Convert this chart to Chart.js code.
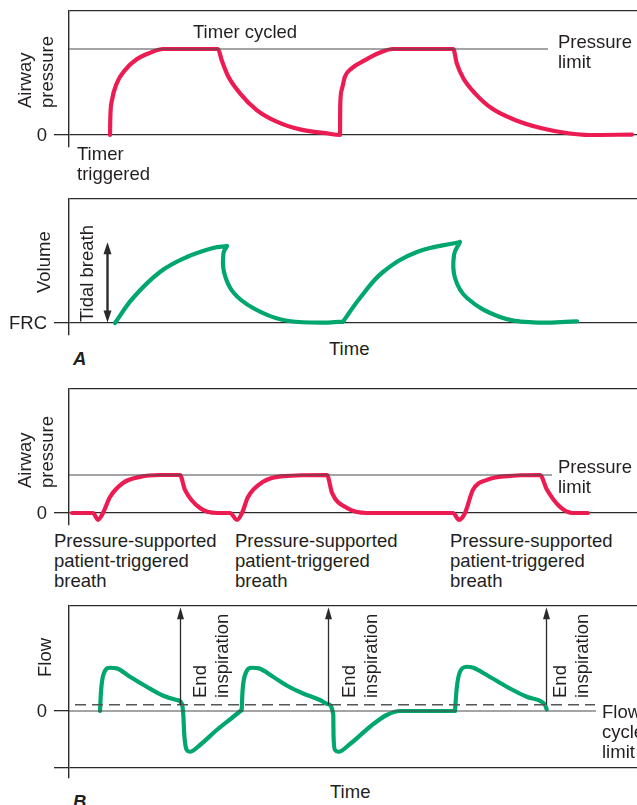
<!DOCTYPE html>
<html>
<head>
<meta charset="utf-8">
<script src="https://cdn.jsdelivr.net/npm/chart.js@4.4.1/dist/chart.umd.min.js"></script>
<style>
  html, body { margin: 0; padding: 0; background: #fff; }
  body { width: 637px; height: 805px; position: relative; overflow: hidden;
         font-family: "Liberation Sans", Arial, sans-serif; color: #231f20; }
  canvas { position: absolute; left: 0; }
  .lbl { position: absolute; font-size: 18.5px; line-height: 20px; white-space: nowrap; }
  .num { position: absolute; font-size: 18.5px; line-height: 20px; right: 590px; text-align: right; }
  .rot { position: absolute; font-size: 18.5px; line-height: 22px; white-space: nowrap;
         transform-origin: 0 0; transform: rotate(-90deg); }
  .tag { font-weight: bold; font-style: italic; }
</style>
</head>
<body>
<canvas id="p1" width="637" height="142" style="top:8px"></canvas>
<canvas id="p2" width="637" height="142" style="top:196px"></canvas>
<canvas id="p3" width="637" height="142" style="top:386px"></canvas>
<canvas id="p4" width="637" height="178" style="top:603px"></canvas>

<!-- A: presión -->
<div class="rot" style="left:14px; top:108px">Airway<br>pressure</div>
<div class="num" style="top:125px">0</div>
<div class="lbl" style="left:193px; top:22px">Timer cycled</div>
<div class="lbl" style="left:558px; top:32px">Pressure<br>limit</div>
<div class="lbl" style="left:77px; top:144px">Timer<br>triggered</div>

<!-- A: volumen -->
<div class="rot" style="left:33px; top:293px">Volume</div>
<div class="rot" style="left:76px; top:322px">Tidal breath</div>
<div class="num" style="top:313px">FRC</div>
<div class="lbl tag" style="left:73px; top:349px">A</div>
<div class="lbl" style="left:329px; top:339px">Time</div>

<!-- B: presión -->
<div class="rot" style="left:14px; top:488px">Airway<br>pressure</div>
<div class="num" style="top:503px">0</div>
<div class="lbl" style="left:558px; top:457px">Pressure<br>limit</div>
<div class="lbl" style="left:54px; top:531px">Pressure-supported<br>patient-triggered<br>breath</div>
<div class="lbl" style="left:235px; top:531px">Pressure-supported<br>patient-triggered<br>breath</div>
<div class="lbl" style="left:450px; top:531px">Pressure-supported<br>patient-triggered<br>breath</div>

<!-- B: flujo -->
<div class="rot" style="left:34px; top:677px">Flow</div>
<div class="num" style="top:701px">0</div>
<div class="rot" style="left:189px; top:698px">End<br>inspiration</div>
<div class="rot" style="left:338px; top:698px">End<br>inspiration</div>
<div class="rot" style="left:549px; top:698px">End<br>inspiration</div>
<div class="lbl" style="left:602px; top:702px">Flow<br>cycle<br>limit</div>
<div class="lbl tag" style="left:73px; top:792px">B</div>
<div class="lbl" style="left:330px; top:782px">Time</div>

<script>
'use strict';

// ── Datos (tiempo en s aprox.) ─────────────────────────
const TIME_MAX = 5.68;

// A: respiración ciclada por tiempo
const PRESSURE_LIMIT_A = 20;        // cmH2O
const pressureA_t = [0.41, 0.413, 0.43, 0.477, 0.56, 0.677, 0.81, 0.94,
                     1.49, 1.527, 1.593, 1.71, 1.877, 2.077, 2.31, 2.577, 2.71,
                     2.712, 2.727, 2.76, 2.827, 2.96, 3.093, 3.24,
                     3.843, 3.877, 3.943, 4.06, 4.227, 4.46, 4.727, 4.993, 5.2, 5.63];
const pressureA_v = [0, 4.0, 8.1, 12.0, 15.1, 17.6, 19.1, 20,
                     20, 17.4, 13.6, 9.7, 5.8, 3.1, 1.3, 0.4, 0,
                     6.6, 10.5, 13.6, 15.5, 17.4, 19.0, 20,
                     20, 16.7, 13.2, 9.7, 6.2, 3.5, 1.56, 0.4, 0, 0.1];

// volumen sobre FRC (mL); null = corte del trazo
const TIDAL_BREATH = 485;
const volumeA_t = [0.46, 0.64, 0.91, 1.18, 1.44, 1.58, 1.58,
                   1.58, 1.545, 1.55, 1.64, 1.84, 2.14, 2.51, 2.74, 2.74,
                   2.74, 2.91, 3.14, 3.48, 3.91, 3.91,
                   3.91, 3.85, 3.86, 3.98, 4.31, 4.64, 5.08];
const volumeA_v = [0, 150, 306, 396, 450, 462, null,
                   462, 420, 306, 186, 90, 18, 2, 8, null,
                   8, 150, 306, 426, 486, null,
                   486, 408, 270, 150, 36, 4, 10];

// B: soporte de presión, disparado por el paciente
const PRESSURE_LIMIT_B = 10;
const pressureB_t = [0.03, 0.24, 0.29, 0.34, 0.41, 0.54, 0.71, 0.91, 1.11, 1.16, 1.31, 1.48,
                     1.61, 1.68, 1.73, 1.79, 1.94, 2.14, 2.58, 2.63, 2.78, 2.98,
                     3.84, 3.90, 3.96, 4.04, 4.18, 4.38, 4.71, 4.78, 4.91, 5.04, 5.19];
const pressureB_v = [0, 0, -1.8, 0, 4.2, 7.9, 9.5, 10, 10, 6.1, 1.3, 0,
                     0, -1.8, 0, 4.2, 8.2, 9.7, 10, 5.3, 1.3, 0,
                     0, -1.8, 0, 6.1, 8.7, 9.7, 10, 6.1, 1.6, 0, 0];

// flujo (L/min); null = esquina entre espiración e inspiración
const FLOW_CYCLE_LIMIT = 5;
const END_INSPIRATION_T = [1.11, 2.59, 4.77];
const flowB_t = [0.31, 0.32, 0.343, 0.41, 0.477, 0.61, 0.777, 0.943, 1.077, 1.127,
                 1.143, 1.153, 1.177, 1.21, 1.31, 1.477, 1.643, 1.727, 1.727,
                 1.727, 1.735, 1.76, 1.83, 1.90, 2.04, 2.20, 2.33, 2.51, 2.59,
                 2.643, 2.645, 2.66, 2.693, 2.81, 3.01, 3.177, 3.31, 3.86, 3.86,
                 3.86, 3.877, 3.91, 3.977, 4.043, 4.177, 4.377, 4.577, 4.727, 4.76, 4.777];
const flowB_v = [0, 15.4, 28.8, 34.6, 34.1, 27.4, 19.4, 12.2, 8.8, 6.1,
                 -3.2, -19.2, -31.2, -32.6, -27.2, -15.2, -4.6, 0.8, null,
                 0.8, 15.4, 28.8, 34.6, 34.1, 27.4, 19.4, 14.4, 8.8, 5.4,
                 -3.2, -19.2, -31.2, -32.6, -26.4, -12.6, -3.2, 0, 0, null,
                 0, 18.1, 31.4, 35.4, 34.6, 28.8, 19.4, 11.4, 7.4, 4.8, 1.4];

// ── Estilos ─────
const AXIS  = '#2b2b2b';
const GUIDE = '#4a4a4a';
const PINK  = '#ec1b52';
const GREEN = '#00a66f';

function pts(ts, vs) { return ts.map((t, i) => ({ x: t, y: vs[i] })); }

function guide(v, t0, t1, dash) {
  return { data: [{ x: t0, y: v }, { x: t1, y: v }], borderColor: dash ? '#555' : GUIDE,
           borderWidth: dash ? 1.5 : 1.2, borderDash: dash || [], pointRadius: 0, tension: 0 };
}

function curve(ts, vs, color, monotone) {
  return { data: pts(ts, vs), borderColor: color, borderWidth: 4.2, pointRadius: 0,
           borderCapStyle: 'round', borderJoinStyle: 'round',
           cubicInterpolationMode: monotone ? 'monotone' : 'default', tension: monotone ? 0 : 0.4 };
}

// flechas verticales en coordenadas de datos
const arrowPlugin = {
  id: 'arrows',
  afterDatasetsDraw(chart, _args, opts) {
    const { ctx, scales: { x, y } } = chart;
    (opts.items || []).forEach(a => {
      const px = Math.round(x.getPixelForValue(a.t)) + 0.5;
      const yLo = y.getPixelForValue(a.from), yHi = y.getPixelForValue(a.to);
      ctx.save();
      ctx.strokeStyle = ctx.fillStyle = AXIS;
      ctx.lineWidth = a.width;
      ctx.beginPath();
      ctx.moveTo(px, a.both ? yLo - a.len + 1 : yLo);
      ctx.lineTo(px, yHi + a.len - 1);
      ctx.stroke();
      const head = (tip, dir) => {
        ctx.beginPath();
        ctx.moveTo(px, tip);
        ctx.lineTo(px - a.half, tip + dir * a.len);
        ctx.lineTo(px + a.half, tip + dir * a.len);
        ctx.closePath();
        ctx.fill();
      };
      head(yHi, 1);
      if (a.both) head(yLo, -1);
      ctx.restore();
    });
  }
};

function panel(id, yMin, yMax, ticks, datasets, arrows) {
  new Chart(document.getElementById(id), {
    type: 'line',
    data: { datasets },
    options: {
      responsive: false,
      animation: false,
      devicePixelRatio: 1,
      events: [],
      layout: { padding: { top: 3, bottom: 3, left: 0, right: 0 } },
      plugins: { legend: { display: false }, tooltip: { enabled: false }, arrows: { items: arrows || [] } },
      scales: {
        x: { type: 'linear', min: 0, max: TIME_MAX, display: false },
        y: {
          min: yMin, max: yMax,
          afterFit: s => { s.width = 69; },
          afterBuildTicks: s => { s.ticks = ticks.map(tk => ({ value: tk.v })); },
          ticks: { display: false },
          border: { display: true, color: AXIS, width: 1.4 },
          grid: {
            tickLength: 15,
            lineWidth: 1.3,
            color: c => (ticks[c.index] && ticks[c.index].line) ? AXIS : 'transparent',
            tickColor: c => (ticks[c.index] && ticks[c.index].mark) ? AXIS : 'transparent'
          }
        }
      }
    },
    plugins: [arrowPlugin]
  });
}

// ── Paneles ─────
const P1 = { min: -2.79, max: 28.84 };
panel('p1', P1.min, P1.max,
  [{ v: 0, line: true, mark: true }, { v: P1.max, line: true, mark: false }],
  [guide(PRESSURE_LIMIT_A, 0, 4.79), curve(pressureA_t, pressureA_v, PINK, true)]);

const P2 = { min: -72, max: 744 };
panel('p2', P2.min, P2.max,
  [{ v: 0, line: true, mark: true }, { v: P2.max, line: true, mark: false }],
  [curve(volumeA_t, volumeA_v, GREEN, false)],
  [{ t: 0.38, from: 3, to: TIDAL_BREATH, width: 2.4, len: 12, half: 4, both: true }]);

const P3 = { min: -3.16, max: 32.63 };
panel('p3', P3.min, P3.max,
  [{ v: 0, line: true, mark: true }, { v: P3.max, line: true, mark: false }],
  [guide(PRESSURE_LIMIT_B, 0, 4.83), curve(pressureB_t, pressureB_v, PINK, true)]);

const P4 = { min: -53.6, max: 84 };
panel('p4', P4.min, P4.max,
  [{ v: -45, line: true, mark: true }, { v: 0, line: false, mark: true }, { v: P4.max, line: true, mark: false }],
  [guide(0, 0, 5.27), guide(FLOW_CYCLE_LIMIT, 0.06, 5.26, [11, 6]), curve(flowB_t, flowB_v, GREEN, true)],
  END_INSPIRATION_T.map(t => ({ t, from: FLOW_CYCLE_LIMIT, to: P4.max - 1, width: 1.3, len: 12, half: 3.5, both: false })));
</script>
</body>
</html>
